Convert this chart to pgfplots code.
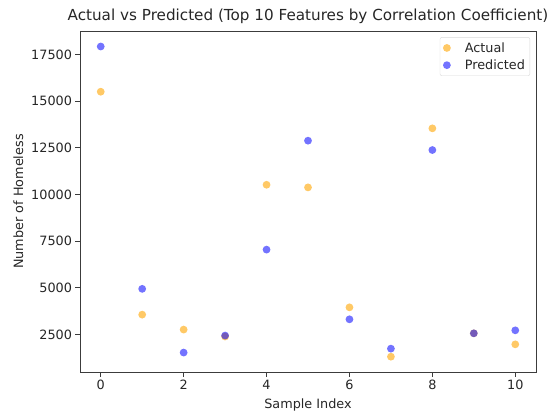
\documentclass[border=0pt]{standalone}
\usepackage{fontspec}
\setmainfont{DejaVu Sans}
\usepackage{pgfplots}
\pgfplotsset{compat=1.18}
\definecolor{mplorange}{RGB}{255,165,0}
\definecolor{mplblue}{RGB}{0,0,255}
\definecolor{axgray}{RGB}{60,60,60}
\begin{document}
\begin{tikzpicture}
\begin{axis}[
  scale only axis,
  width=456pt, height=341pt,
  xmin=-0.5, xmax=10.5,
  ymin=500, ymax=18750,
  xtick={0,2,4,6,8,10},
  ytick={2500,5000,7500,10000,12500,15000,17500},
  scaled y ticks=false,
  /pgf/number format/assume math mode=true,
  /pgf/number format/.cd, 1000 sep={}, /pgfplots/.cd,
  tick label style={font=\fontsize{12.8}{15}\selectfont, text=black!85},
  label style={font=\fontsize{12.8}{15}\selectfont, text=black!85},
  title style={font=\fontsize{15.2}{18}\selectfont, text=black!85, yshift=-2pt},
  title={Actual vs Predicted (Top 10 Features by Correlation Coefficient)},
  xlabel={Sample Index},
  ylabel={Number of Homeless},
  xlabel style={yshift=-2pt},
  ylabel style={yshift=1pt},
  axis line style={axgray, line width=0.9pt},
  tick style={axgray, line width=0.9pt},
  tick align=outside,
  major tick length=4.5pt,
  xtick pos=bottom, ytick pos=left,
  legend image code/.code={\draw[mark repeat=2,mark phase=2,#1] plot coordinates {(0cm,0cm) (0.5cm,0cm) (0.7cm,0cm)};},
  legend style={at={(0.987,0.982)}, anchor=north east, draw=black!15, rounded corners=2pt,
    font=\fontsize{12.8}{15}\selectfont, text=black!85, row sep=2pt, inner sep=3pt,
    /tikz/every odd column/.append style={column sep=12pt}},
  legend cell align=left,
]
\coordinate (sw) at (rel axis cs:0,0);
\coordinate (ne) at (rel axis cs:1,1);
\addplot[only marks, mark=*, mark size=3.9pt, mark options={draw opacity=0, fill=mplorange, fill opacity=0.6}] coordinates {
 (0,15500) (1,3570) (2,2770) (3,2400) (4,10520) (5,10380) (6,3960) (7,1320) (8,13540) (9,2570) (10,1980)
};
\addlegendentry{Actual}
\addplot[only marks, mark=*, mark size=3.9pt, mark options={draw opacity=0, fill=mplblue, fill opacity=0.55}] coordinates {
 (0,17920) (1,4950) (2,1540) (3,2450) (4,7050) (5,12880) (6,3320) (7,1750) (8,12380) (9,2570) (10,2730)
};
\addlegendentry{Predicted}
\end{axis}
\pgfresetboundingbox
\path[use as bounding box] ([shift={(-80pt,-40pt)}]sw) rectangle ([shift={(14pt,31pt)}]ne);
\end{tikzpicture}
\end{document}
